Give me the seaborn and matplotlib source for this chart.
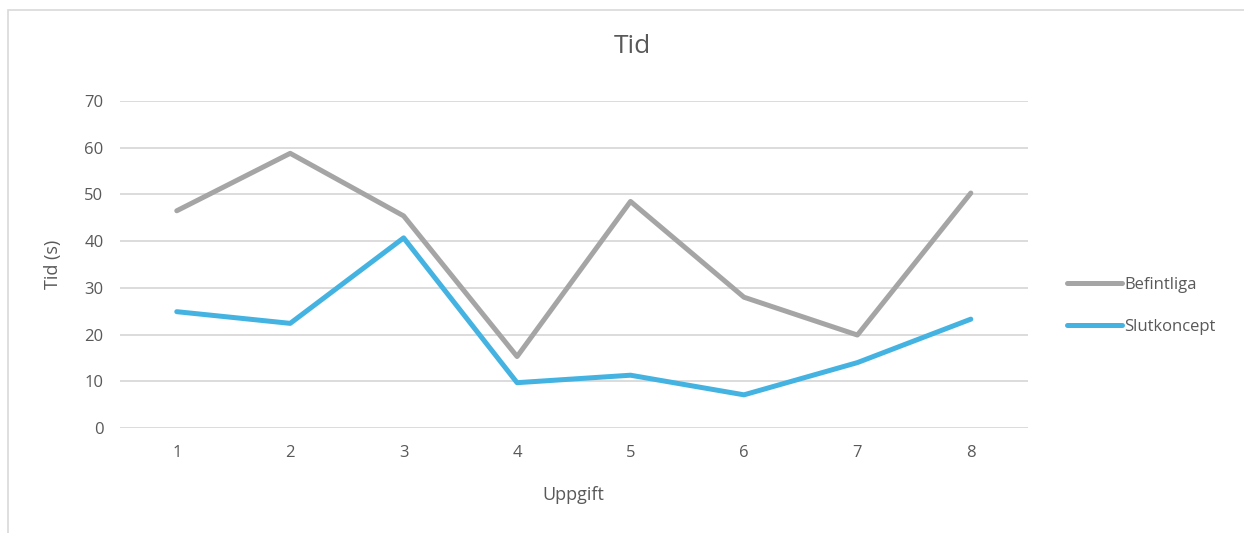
import numpy as np
import pandas as pd
import matplotlib.pyplot as plt
import seaborn as sns
from matplotlib.patches import Rectangle

# data
uppgift = [1, 2, 3, 4, 5, 6, 7, 8]
befintliga = [46.5, 58.8, 45.4, 15.3, 48.5, 28.0, 19.9, 50.3]
slutkoncept = [24.9, 22.4, 40.7, 9.7, 11.3, 7.1, 14.0, 23.3]
series_names = ["Befintliga", "Slutkoncept"]
y_ticks = [0, 10, 20, 30, 40, 50, 60, 70]

df = pd.DataFrame({
    "Uppgift": uppgift * 2,
    "Tid": befintliga + slutkoncept,
    "Serie": [series_names[0]] * len(uppgift) + [series_names[1]] * len(uppgift),
})

sns.set_theme(style="white")
plt.rcParams['font.family'] = ['Open Sans', 'DejaVu Sans']
txt = "#595959"

fig = plt.figure(figsize=(12.44, 5.33), dpi=100)
ax = fig.add_axes([0.0965, 0.197, 0.7295, 0.6135])

sns.lineplot(data=df, x="Uppgift", y="Tid", hue="Serie",
             palette={"Befintliga": "#A5A5A5", "Slutkoncept": "#44B3E1"},
             linewidth=3.6, ax=ax, solid_capstyle="round")

ax.set_xlim(0.5, 8.5)
ax.set_ylim(0, 70)
ax.set_xticks(uppgift)
ax.set_yticks(y_ticks)
ax.tick_params(axis="both", length=0, labelsize=12, colors=txt, pad=12)
ax.grid(axis="y", color="#D9D9D9", linewidth=1.3)
ax.set_axisbelow(True)
for s in ax.spines.values():
    s.set_visible(False)

# chart title sits centred on the whole chart area
fig.text(0.508, 0.912, "Tid", fontsize=19, color=txt, ha="center", va="center")
ax.set_xlabel("Uppgift", fontsize=13, color=txt, labelpad=18)
ax.set_ylabel("Tid (s)", fontsize=13, color=txt, labelpad=16)

leg = ax.legend(loc="center left", bbox_to_anchor=(1.036, 0.373), frameon=False,
                fontsize=12, handlelength=3.3, handletextpad=0.15, labelspacing=1.55,
                borderaxespad=0)
for t in leg.get_texts():
    t.set_color(txt)
for l in leg.get_lines():
    l.set_linewidth(3.6)

# outer chart border
fig.patches.append(Rectangle((8 / 1244, -0.1), 1.2, 1.1 - 10 / 533, transform=fig.transFigure,
                             fill=False, edgecolor="#D9D9D9", linewidth=1.2, zorder=0))

fig.savefig("out.png", dpi=100)
